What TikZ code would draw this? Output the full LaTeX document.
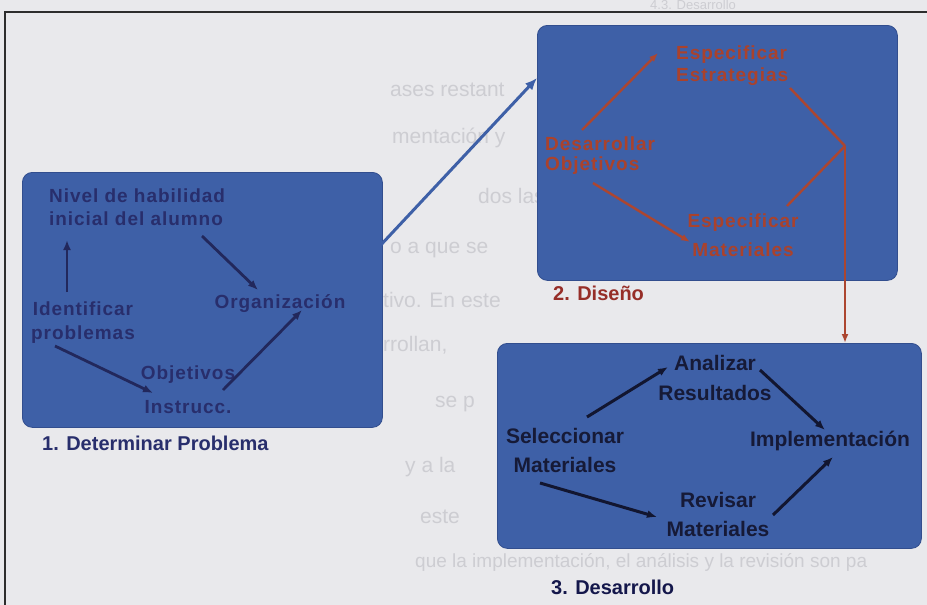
\documentclass[tikz,border=0pt]{standalone}
\usepackage{fontspec}
\setmainfont{Liberation Sans}
\newfontfamily\diagfont[LetterSpace=5]{Liberation Sans}
\usetikzlibrary{arrows.meta,calc}

\definecolor{pagebg}{RGB}{233,233,236}
\definecolor{ghost}{RGB}{205,205,210}
\definecolor{panelblue}{RGB}{62,96,167}
\definecolor{paneledge}{RGB}{50,78,142}
\definecolor{navytext}{RGB}{40,46,108}
\definecolor{navyline}{RGB}{34,40,92}
\definecolor{rusttext}{RGB}{170,66,44}
\definecolor{rustline}{RGB}{172,70,48}
\definecolor{rustlabel}{RGB}{150,46,40}
\definecolor{inktext}{RGB}{22,26,55}
\definecolor{inkline}{RGB}{18,22,48}
\definecolor{frameline}{RGB}{45,45,45}

\tikzset{
  ghosttext/.style={font=\fontsize{21}{21}\selectfont, text=ghost, anchor=west, inner sep=0pt},
  panel/.style={rounded corners=10pt, fill=panelblue, draw=paneledge, line width=0.8pt,
                anchor=north west, inner sep=0pt},
  tone/.style={font=\diagfont\bfseries\fontsize{19}{23}\selectfont, text=navytext, inner sep=0pt},
  ttwo/.style={font=\diagfont\bfseries\fontsize{19}{23}\selectfont, text=rusttext, inner sep=0pt},
  tthree/.style={font=\bfseries\fontsize{21}{29}\selectfont, text=inktext, inner sep=0pt},
  caption/.style={font=\bfseries\fontsize{20}{24}\selectfont, inner sep=0pt, anchor=base west},
  arrone/.style={draw=navyline, line width=2.8pt, -{Latex[length=10pt,width=8pt]}},
  arrtwo/.style={draw=rustline, line width=2.4pt, -{Latex[length=9pt,width=7pt]}},
  arrthree/.style={draw=inkline, line width=3pt, -{Latex[length=10pt,width=8pt]}},
  linktwo/.style={draw=rustline, line width=2.4pt},
  bigarrow/.style={draw=panelblue, line width=3pt, -{Latex[length=12pt,width=10pt]}}
}

\begin{document}
\begin{tikzpicture}[x=1pt,y=-1pt]
\useasboundingbox (0,0) rectangle (927,605);
\fill[pagebg] (0,0) rectangle (927,605);

% faint print showing through from the page behind
\node[ghosttext, font=\fontsize{13}{13}\selectfont] (g0) at (650,5) {4.3. Desarrollo};
\node[ghosttext] (g1) at (390,90)  {ases restant};
\node[ghosttext] (g2) at (392,138) {mentación y};
\node[ghosttext] (g3) at (478,196) {dos las};
\node[ghosttext] (g4) at (390,250) {o a que se};
\node[ghosttext] (g5) at (383,300) {tivo. En este};
\node[ghosttext] (g6) at (383,345) {rrollan,};
\node[ghosttext] (g7) at (435,404) {se p};
\node[ghosttext] (g8) at (405,467) {y a la};
\node[ghosttext] (g9) at (420,517) {este};
\node[ghosttext, font=\fontsize{19}{19}\selectfont] (g10) at (415,562) {que la implementación, el análisis y la revisión son pa};

% outer frame
\draw[frameline, line width=2pt] (5,605) -- (5,12) -- (927,12);

% the three stage panels
\node[panel, minimum width=360pt, minimum height=255pt] (b1) at (22,172) {};
\node[panel, minimum width=360pt, minimum height=255pt] (b2) at (537,25) {};
\node[panel, minimum width=424pt, minimum height=205pt] (b3) at (497,343) {};

% stage 1
\node[tone, align=left, anchor=west] (nivel) at (49,207) {Nivel de habilidad\\inicial del alumno};
\node[tone, align=center] (ident) at (83,323) {Identificar\\[1pt]problemas};
\node[tone, anchor=base] (org) at (280,308) {Organización};
\node[tone, anchor=base] (obj) at (188,379) {Objetivos};
\node[tone, anchor=base] (instr) at (188,413) {Instrucc.};
\node[caption, text=navytext] (lab1) at (42,450) {1. Determinar Problema};

\draw[arrone] ($(ident)+(-16,-31)$) -- ($(nivel.west)+(18,33)$);
\draw[arrone] ($(nivel.west)+(153,29)$) -- ($(org.base)+(-22,-18)$);
\draw[arrone] ($(ident)+(-28,23)$) -- ($(instr.base)+(-35,-20)$);
\draw[arrone] ($(instr.base)+(35,-23)$) -- ($(org.base)+(22,2)$);

% stage 1 feeds stage 2
\draw[bigarrow] ($(b1.north east)+(-2,73)$) -- ($(b2.north west)+(0,53)$);

% stage 2
\node[ttwo, align=left, anchor=west] (estr) at (676,66) {Especificar\\[-1pt]Estrategias};
\node[ttwo, align=left, anchor=west] (desa) at (545,156) {Desarrollar\\[-3pt]Objetivos};
\node[ttwo, align=center] (espm) at (743,235) {Especificar\\[6pt]Materiales};
\node[caption, text=rustlabel] (lab2) at (553,300) {2. Diseño};

\draw[arrtwo] ($(desa.west)+(37,-26)$) -- ($(estr.west)+(-18,-13)$);
\draw[arrtwo] ($(desa.west)+(48,27)$) -- ($(espm)+(-53,7)$);
\coordinate (jn) at (845,146);
\draw[linktwo] ($(estr.west)+(114,22)$) -- (jn);
\draw[linktwo] ($(espm)+(44,-29)$) -- (jn);
\draw[arrtwo] (jn) -- (jn |- b3.north);

% stage 3
\node[tthree, align=center] (ana) at (715,378) {Analizar\\[1pt]Resultados};
\node[tthree, align=center] (sel) at (565,450) {Seleccionar\\Materiales};
\node[tthree, anchor=base] (impl) at (830,446) {Implementación};
\node[tthree, align=center] (rev) at (718,514) {Revisar\\Materiales};
\node[caption, text=inktext!90!blue] (lab3) at (551,594) {3. Desarrollo};

\draw[arrthree] ($(sel)+(22,-33)$) -- ($(ana)+(-47,-11)$);
\draw[arrthree] ($(ana)+(45,-8)$) -- ($(impl.base)+(-5,-16)$);
\draw[arrthree] ($(sel)+(-25,33)$) -- ($(rev)+(-61,3)$);
\draw[arrthree] ($(rev)+(55,1)$) -- ($(impl.base)+(3,11)$);
\end{tikzpicture}
\end{document}
